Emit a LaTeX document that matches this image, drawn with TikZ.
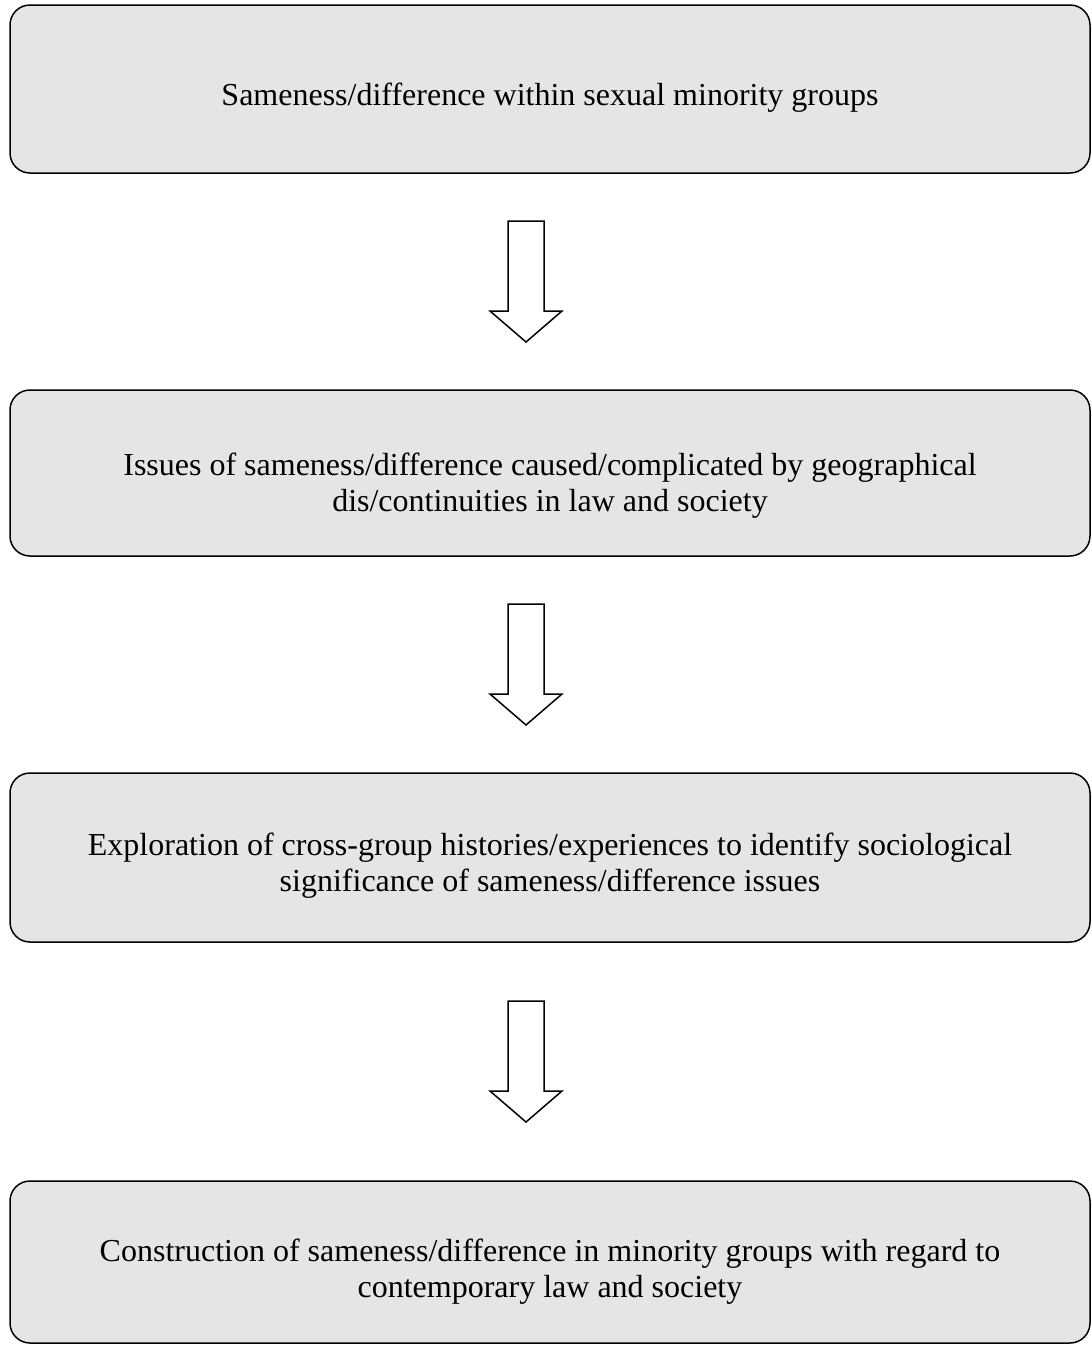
\documentclass[tikz,border=0pt]{standalone}
\usepackage{fontspec}
\setmainfont{Liberation Serif}
\usetikzlibrary{calc}

\definecolor{boxfill}{HTML}{E5E5E5}

\tikzset{
  stage/.style={draw=black, line width=1.5pt, fill=boxfill, rounded corners=20pt,
    minimum width=1080pt, inner sep=0pt},
  stagetext/.style={anchor=base, inner sep=0pt, align=center,
    font=\fontsize{32}{36}\selectfont},
  arrowline/.style={draw=black, line width=1.5pt, fill=white, line join=miter},
  downarrow/.pic={
    \path[arrowline] (-18,-60.5) -- (18,-60.5) -- (18,29.5) -- (36,29.5)
      -- (0,60.5) -- (-36,29.5) -- (-18,29.5) -- cycle;
  }
}

\begin{document}
\begin{tikzpicture}[x=1pt, y=-1pt]
  \useasboundingbox (0,0) rectangle (1092,1345);

  % stage boxes
  \node[stage, minimum height=168pt] (s1) at (550,89) {};
  \node[stage, minimum height=166pt] (s2) at (550,473) {};
  \node[stage, minimum height=169pt] (s3) at (550,857.5) {};
  \node[stage, minimum height=162pt] (s4) at (550,1262) {};

  % stage texts, placed on the baseline of their last line
  \node[stagetext] (t1) at ($(s1.center)+(0,16)$)
    {Sameness/difference within sexual minority groups};
  \node[stagetext] (t2) at ($(s2.center)+(0,38)$)
    {Issues of sameness/difference caused/complicated by geographical\\
     dis/continuities in law and society};
  \node[stagetext] (t3) at ($(s3.center)+(0,33.5)$)
    {Exploration of cross-group histories/experiences to identify sociological\\
     significance of sameness/difference issues};
  \node[stagetext] (t4) at ($(s4.center)+(0,35.5)$)
    {Construction of sameness/difference in minority groups with regard to\\
     contemporary law and society};

  % block arrows between the stages
  \path ($(s1.south)!0.5!(s2.north)+(-24,0)$) pic {downarrow};
  \path ($(s2.south)!0.5!(s3.north)+(-24,0)$) pic {downarrow};
  \path ($(s3.south)!0.5!(s4.north)+(-24,0)$) pic {downarrow};
\end{tikzpicture}
\end{document}
